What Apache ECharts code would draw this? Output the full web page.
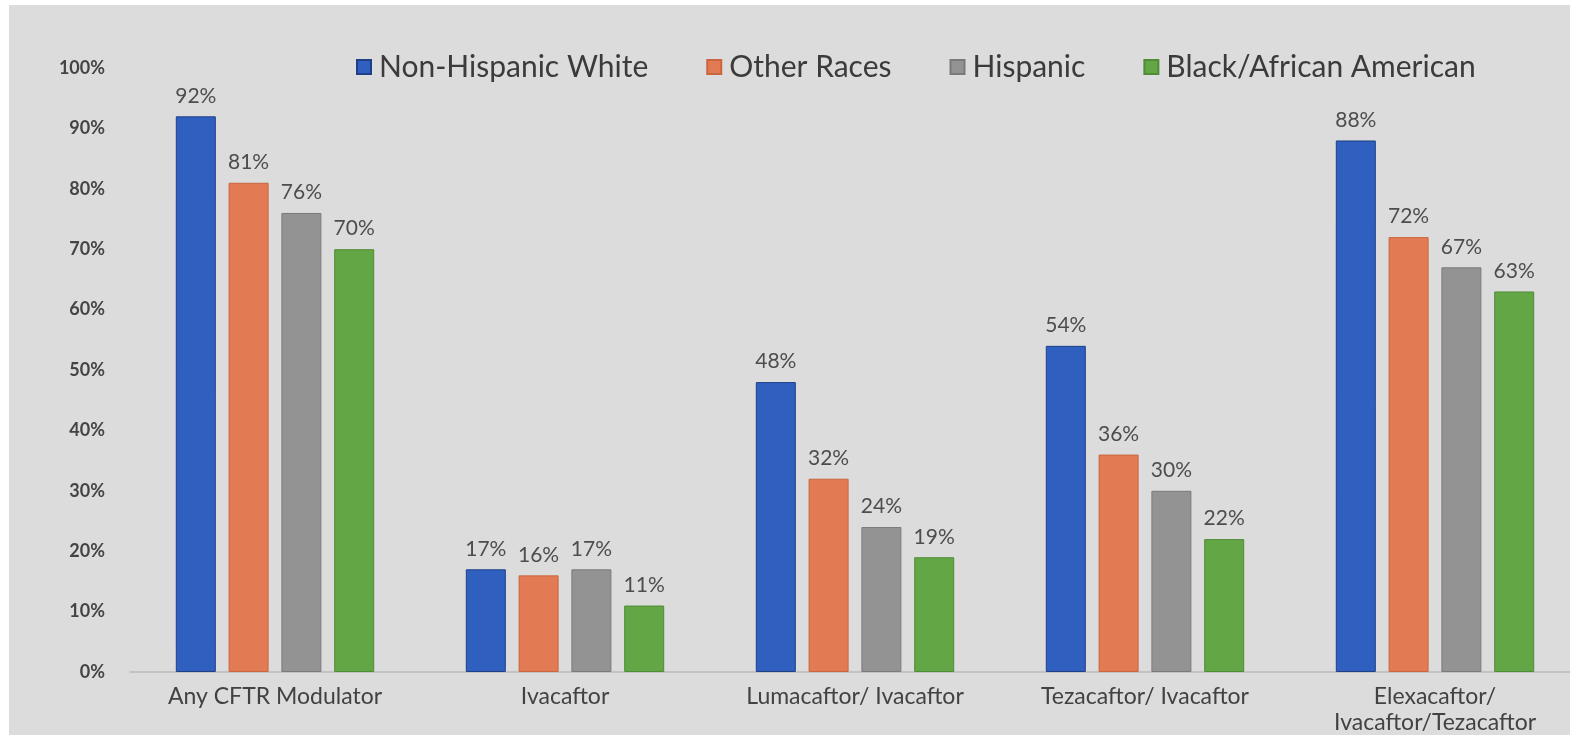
<!DOCTYPE html>
<html>
<head>
<meta charset="utf-8">
<title>CFTR modulator use by race and ethnicity</title>
<script src="https://cdn.jsdelivr.net/npm/echarts@6/dist/echarts.min.js"></script>
<style>
  html, body { margin: 0; padding: 0; background: #ffffff; overflow: hidden; width: 1570px; height: 738px; }
  #chart { position: absolute; left: 9px; top: 5px; width: 1580px; height: 730px; background: #dcdcdc; }
</style>
</head>
<body>
<div id="chart"></div>
<script>
// Therapy groups shown along the x axis
const categories = [
  'Any CFTR Modulator',
  'Ivacaftor',
  'Lumacaftor/ Ivacaftor',
  'Tezacaftor/ Ivacaftor',
  'Elexacaftor/\nIvacaftor/Tezacaftor'
];

// Percent of patients on each therapy, by race / ethnicity
const nonHispanicWhite = [92, 17, 48, 54, 88];
const otherRaces       = [81, 16, 32, 36, 72];
const hispanic         = [76, 17, 24, 30, 67];
const blackAfrican     = [70, 11, 19, 22, 63];

const seriesNames = ['Non-Hispanic White', 'Other Races', 'Hispanic', 'Black/African American'];
const seriesData  = [nonHispanicWhite, otherRaces, hispanic, blackAfrican];
const colors      = ['#2f5fbf', '#e27b53', '#939393', '#63a646'];
const borders     = ['#1f3f86', '#c9663f', '#7a7a7a', '#4f8c36'];

const yTicks = [0, 10, 20, 30, 40, 50, 60, 70, 80, 90, 100];

const FONT = 'Lato, "Open Sans", sans-serif';

const chart = echarts.init(document.getElementById('chart'), null, { renderer: 'canvas' });

chart.setOption({
  backgroundColor: '#dcdcdc',
  animation: false,
  color: colors,
  textStyle: { fontFamily: FONT },
  legend: {
    data: seriesNames,
    top: 42,
    left: 342,
    itemWidth: 14,
    itemHeight: 14,
    itemGap: 58,
    icon: 'rect',
    textStyle: { fontSize: 30, color: '#3b3b3b', fontFamily: FONT, padding: [0, 0, 0, 3] }
  },
  grid: {
    left: 121,
    right: 9,
    top: 63,
    bottom: 63,
    containLabel: false,
    outerBoundsMode: 'none'
  },
  xAxis: {
    type: 'category',
    data: categories,
    axisTick: { show: false },
    axisLine: { lineStyle: { color: '#b9b9b9', width: 1.5 } },
    axisLabel: {
      fontSize: 23,
      color: '#424242',
      margin: 12,
      lineHeight: 26,
      fontFamily: FONT
    }
  },
  yAxis: {
    type: 'value',
    min: 0,
    max: 100,
    interval: 10,
    splitLine: { show: false },
    axisLine: { show: false },
    axisTick: { show: false },
    axisLabel: {
      formatter: v => (yTicks.includes(v) ? v + '%' : ''),
      fontSize: 18,
      fontWeight: 'bold',
      color: '#444444',
      margin: 25,
      fontFamily: FONT
    }
  },
  series: seriesNames.map((name, i) => ({
    name,
    type: 'bar',
    data: seriesData[i],
    barWidth: 40,
    barGap: '32%',
    itemStyle: { color: colors[i], borderColor: borders[i], borderWidth: 1 },
    label: {
      show: true,
      position: 'top',
      distance: 10,
      formatter: p => p.value + '%',
      fontSize: 21,
      color: '#4d4d4d',
      fontFamily: FONT
    }
  }))
});
</script>
</body>
</html>
